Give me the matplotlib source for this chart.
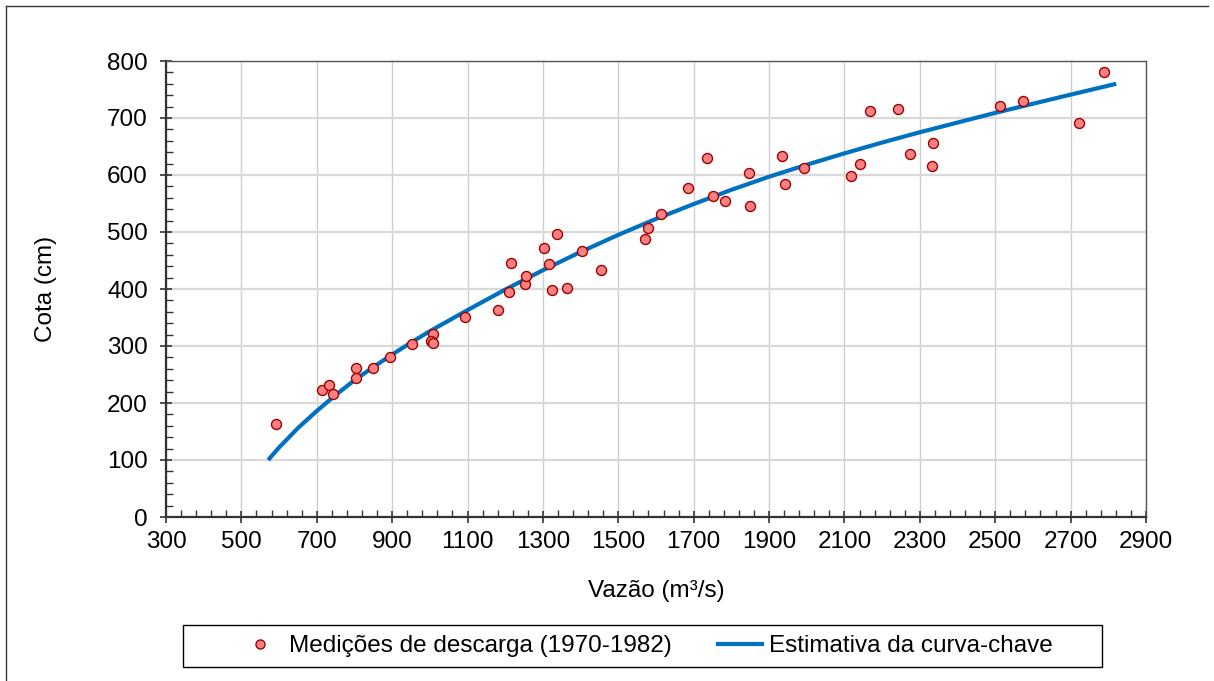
import matplotlib
matplotlib.use("Agg")
import matplotlib.pyplot as plt
from matplotlib.lines import Line2D
from matplotlib.patches import Rectangle
import numpy as np

plt.rcParams["font.family"] = ["Liberation Sans", "DejaVu Sans"]

# discharge measurements (1970-1982): flow (m3/s) and stage (cm)
medicoes_vazao = [592, 714, 732, 744, 804, 804, 848, 895, 953, 1008,
                  1003, 1008, 1092, 1181, 1209, 1216, 1252, 1254, 1303, 1315,
                  1323, 1337, 1363, 1403, 1453, 1570, 1578, 1614, 1684, 1735,
                  1752, 1783, 1847, 1850, 1935, 1942, 1992, 2117, 2140, 2168,
                  2242, 2273, 2331, 2336, 2513, 2573, 2723, 2789]
medicoes_cota = [163, 223, 232, 215, 261, 244, 262, 281, 303, 321,
                 308, 306, 351, 363, 395, 445, 409, 423, 472, 443,
                 398, 496, 401, 467, 433, 488, 507, 532, 577, 630,
                 563, 554, 603, 546, 633, 584, 612, 599, 620, 713,
                 716, 637, 615, 656, 721, 730, 692, 781]

# rating curve estimate
curva_vazao = [571, 600, 650, 700, 750, 800, 850, 900, 950, 1000, 1100, 1200, 1300,
               1400, 1500, 1600, 1700, 1800, 1900, 2000, 2100, 2200, 2300, 2400,
               2500, 2600, 2700, 2821]
curva_cota = [100, 122, 156, 186, 214, 240, 263, 285, 306, 326, 363, 399, 433,
              465, 495, 523, 549, 574, 597, 618, 638, 657, 675, 692,
              709, 725, 741, 760]

xticks = list(range(300, 2901, 200))
yticks = list(range(0, 801, 100))

W, H = 1214, 681
FS = 17.5
fig = plt.figure(figsize=(W / 100, H / 100), dpi=100)
ax = fig.add_axes([166 / W, 1 - 517 / H, (1146 - 166) / W, (517 - 61) / H])

ax.yaxis.grid(True, color="#d9d9d9", lw=1.6, zorder=0)
ax.xaxis.grid(True, color="#cfcfcf", lw=1.0, zorder=0)
ax.set_axisbelow(True)

ax.plot(curva_vazao, curva_cota, color="#0070C0", lw=3.0, solid_capstyle="butt",
        solid_joinstyle="round", zorder=2)
ax.plot(medicoes_vazao, medicoes_cota, ls="none", marker="o", ms=7.2,
        mfc="#FF8080", mec="#9B0000", mew=1.0, zorder=3)

ax.set_xlim(300, 2900)
ax.set_ylim(0, 800)
ax.set_xticks(xticks)
ax.set_yticks(yticks)
ax.set_xticks(np.arange(300, 2901, 40), minor=True)
ax.set_yticks(np.arange(0, 801, 20), minor=True)
ax.tick_params(which="major", direction="inout", length=8, width=1.2, color="#333333",
               labelsize=FS)
ax.tick_params(axis="x", which="major", pad=6)
ax.tick_params(axis="y", which="major", pad=9)
ax.tick_params(which="minor", direction="in", length=5, width=1.0, color="#333333")
for s in ["left", "bottom"]:
    ax.spines[s].set_color("#333333"); ax.spines[s].set_linewidth(1.6)
for s in ["top", "right"]:
    ax.spines[s].set_color("#555555"); ax.spines[s].set_linewidth(1.0)

ax.set_xlabel("Vazão (m³/s)", fontsize=FS)
ax.set_ylabel("Cota (cm)", fontsize=FS)
ax.xaxis.set_label_coords(0.5, (517 - 580) / 456)
ax.yaxis.set_label_coords((57 - 166) / 980, 0.5)

handles = [Line2D([], [], ls="none", marker="o", ms=6.5, mfc="#FF8080", mec="#9B0000", mew=1.0),
           Line2D([], [], color="#0070C0", lw=3.0)]
leg = fig.legend(handles, ["Medições de descarga (1970-1982)", "Estimativa da curva-chave"],
                 loc="center left", bbox_to_anchor=(238 / W, 1 - 646 / H), ncol=2, fontsize=FS,
                 frameon=False, handlelength=1.8, handletextpad=0.3, columnspacing=1.9,
                 borderpad=0, borderaxespad=0)

# legend box and outer chart frame
fig.add_artist(Rectangle((183 / W, 1 - 667 / H), (1102 - 183) / W, 42 / H,
                         fill=False, edgecolor="black", lw=1.0))
fig.add_artist(Line2D([6 / W, 1208 / W], [1 - 6 / H, 1 - 6 / H], color="#333333", lw=1.0))
fig.add_artist(Line2D([6 / W, 6 / W], [1 - 6 / H, 0], color="#333333", lw=1.0))

fig.savefig("out.png", dpi=100)
